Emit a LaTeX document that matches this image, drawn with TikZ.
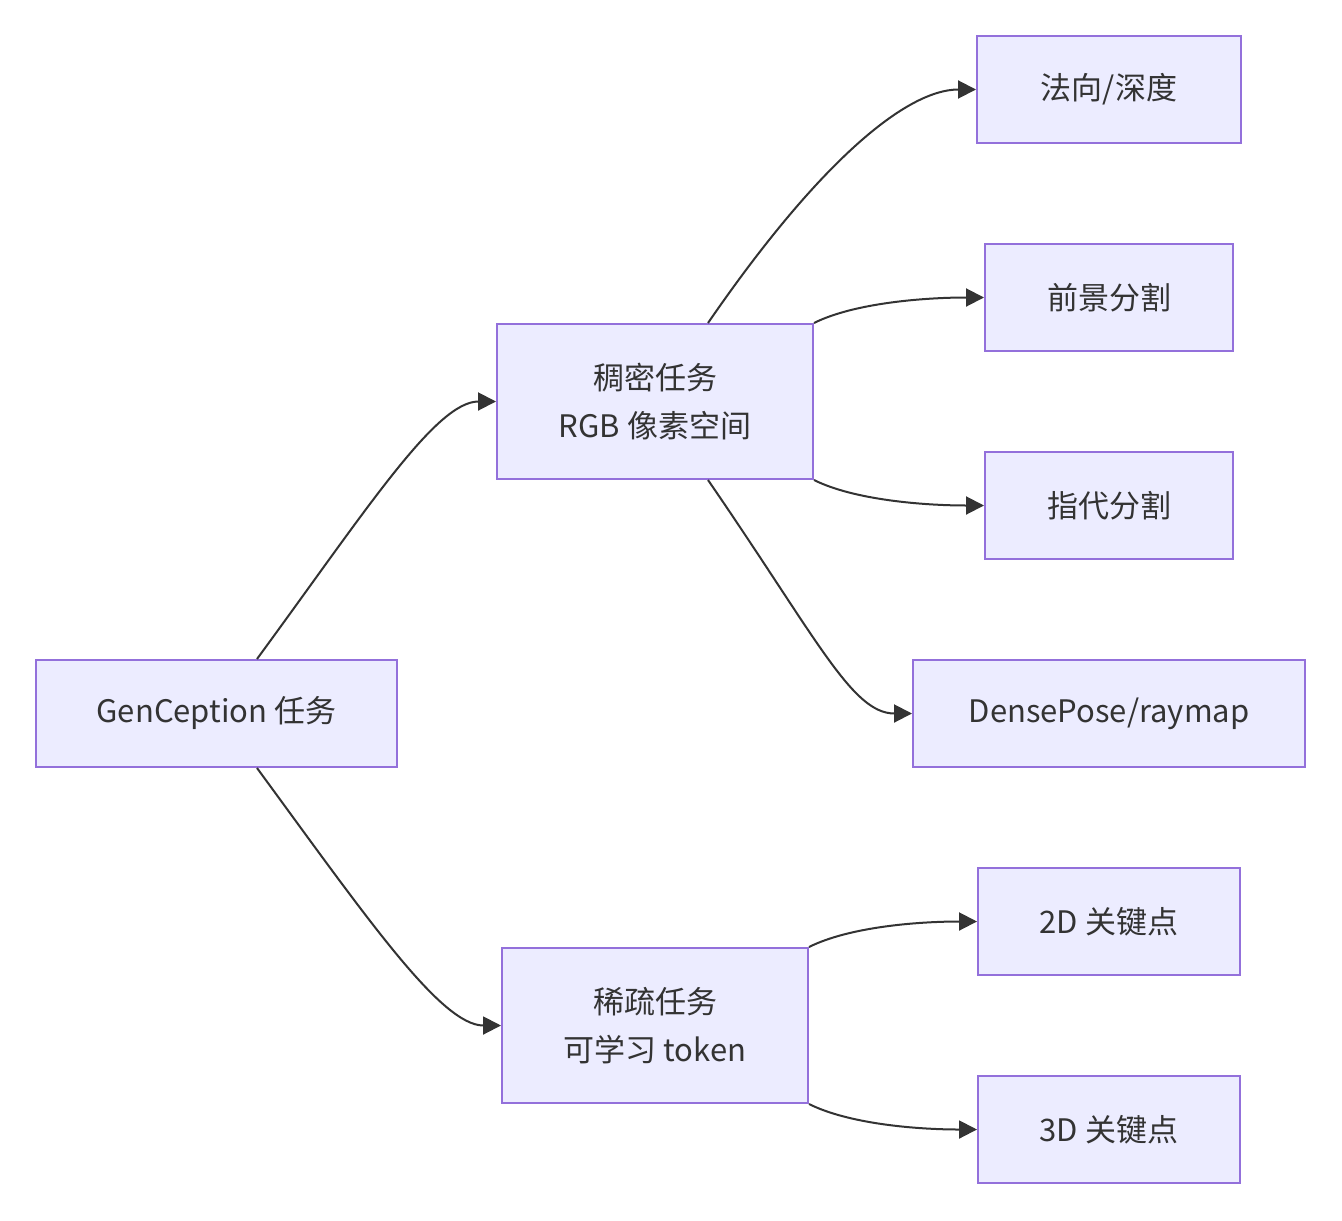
\documentclass[tikz,border=0pt]{standalone}
\usepackage{fontspec}
\setmainfont{Noto Sans CJK SC}
\usetikzlibrary{positioning,arrows.meta}
\definecolor{boxfill}{HTML}{ECECFF}
\definecolor{boxline}{HTML}{9370DB}
\definecolor{ink}{HTML}{333333}
\tikzset{
  task/.style={draw=boxline,fill=boxfill,line width=1pt,inner sep=0pt,align=center,
    minimum height=53.5pt,text=ink,font=\fontsize{15.5}{24}\selectfont},
  link/.style={draw=ink,line width=1pt,-{Triangle[length=9pt,width=9pt]}}
}

\begin{document}
\begin{tikzpicture}[x=0.5pt,y=-0.5pt]
\useasboundingbox (0,0) rectangle (1342,1220);
\node[task,minimum width=180.5pt] (gen) at (216.5,713.5) {GenCeption 任务};
\node[task,minimum width=158pt,minimum height=77.5pt] (dense) at (655,401.5) {稠密任务\\RGB 像素空间};
\node[task,minimum width=153pt,minimum height=77.5pt] (sparse) at (655,1025.5) {稀疏任务\\可学习 token};
\node[task,minimum width=132pt] (normal) at (1109,89.5) {法向/深度};
\node[task,minimum width=124pt] (fg) at (1109,297.5) {前景分割};
\node[task,minimum width=124pt] (refer) at (1109,505.5) {指代分割};
\node[task,minimum width=196pt] (pose) at (1109,713.5) {DensePose/raymap};
\node[task,minimum width=131pt] (kp2) at (1109,921.5) {2D 关键点};
\node[task,minimum width=131pt] (kp3) at (1109,1129.5) {3D 关键点};
% edges
\draw[link] ([xshift=20.25pt]gen.north) .. controls +(110,-150) and +(-60,0) .. (dense.west);
\draw[link] ([xshift=20.25pt]gen.south) .. controls +(110,150) and +(-60,0) .. (sparse.west);
\draw[link] ([xshift=26.5pt]dense.north) .. controls +(110,-160) and +(-70,0) .. (normal.west);
\draw[link] (dense.north east) .. controls +(40,-20) and +(-60,0) .. (fg.west);
\draw[link] (dense.south east) .. controls +(40,20) and +(-60,0) .. (refer.west);
\draw[link] ([xshift=26.5pt]dense.south) .. controls +(110,160) and +(-60,0) .. (pose.west);
\draw[link] (sparse.north east) .. controls +(40,-20) and +(-60,0) .. (kp2.west);
\draw[link] (sparse.south east) .. controls +(40,20) and +(-60,0) .. (kp3.west);
\end{tikzpicture}
\end{document}
